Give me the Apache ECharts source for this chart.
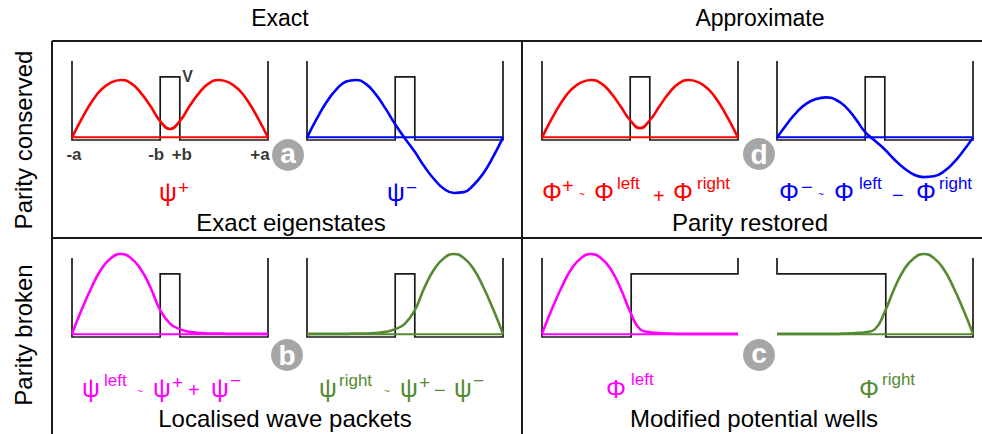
<!DOCTYPE html>
<html><head><meta charset="utf-8">
<script src="https://cdn.jsdelivr.net/npm/echarts@6/dist/echarts.min.js"></script>
<style>html,body{margin:0;padding:0;background:#fff}#c{width:982px;height:434px}</style>
</head><body><div id="c"></div>
<script>
// ---- data (x in units of a, y in units of wall height) ----
const xSample = [-1,-0.9,-0.8,-0.7,-0.6,-0.5,-0.4,-0.3,-0.2,-0.1,0,0.1,0.2,0.3,0.4,0.5,0.6,0.7,0.8,0.9,1];
const psiPlus  = [0.03,0.27,0.48,0.64,0.73,0.76,0.72,0.60,0.43,0.24,0.14,0.24,0.43,0.60,0.72,0.76,0.73,0.64,0.48,0.27,0.03];
const psiMinus = [0.03,0.27,0.48,0.64,0.74,0.76,0.71,0.58,0.40,0.20,0.02,-0.15,-0.34,-0.50,-0.62,-0.67,-0.66,-0.57,-0.42,-0.21,0.03];
const phiPlus  = [0.03,0.27,0.48,0.64,0.73,0.76,0.72,0.60,0.43,0.25,0.15,0.25,0.43,0.60,0.72,0.76,0.73,0.64,0.48,0.27,0.03];
const phiMinus = [0.03,0.20,0.35,0.46,0.52,0.54,0.51,0.42,0.27,0.10,-0.01,-0.12,-0.25,-0.36,-0.44,-0.47,-0.46,-0.40,-0.29,-0.14,0.03];
const psiLeft  = [0.04,0.35,0.63,0.86,1.00,1.05,1.00,0.86,0.63,0.34,0.17,0.10,0.065,0.05,0.045,0.045,0.04,0.04,0.04,0.04,0.04];
const psiRight = [0.04,0.04,0.04,0.04,0.04,0.045,0.045,0.05,0.065,0.10,0.17,0.34,0.63,0.86,1.00,1.05,1.00,0.86,0.63,0.35,0.04];
const phiLeft  = [0.04,0.35,0.63,0.86,1.00,1.05,1.00,0.86,0.62,0.32,0.10,0.06,0.05,0.045,0.04,0.04,0.04,0.04,0.04,0.04,0.04];
const phiRight = [0.04,0.04,0.04,0.04,0.04,0.04,0.04,0.045,0.05,0.06,0.10,0.32,0.62,0.86,1.00,1.05,1.00,0.86,0.63,0.35,0.04];
const potSymX   = [-1,-1,-0.1,-0.1,0.1,0.1,1,1];
const potSymY   = [1,0,0,0.8,0.8,0,0,1];
const potLeftX  = [-1,-1,-0.09,-0.09,1,1];
const potLeftY  = [1,0,0,0.8,0.8,1];
const potRightX = [-1,-1,0.11,0.11,1,1];
const potRightY = [1,0.8,0.8,0,0,1];
const baselineLevel = 0.035;
const tickPositions = [-1,-0.1,0.1,1];
const tickLabels = ['-a','-b','+b','+a'];
const barrierLabel = 'V';
const colTitles = ['Exact','Approximate'];
const rowTitles = ['Parity conserved','Parity broken'];
const captions = ['Exact eigenstates','Parity restored','Localised wave packets','Modified potential wells'];
const badges = ['a','d','b','c'];

// ---- styling / layout ----
const FONT = '"Liberation Sans", Arial, Helvetica, sans-serif';
const RED='#ff0000', BLUE='#0000ff', MAG='#ff00ff', GRN='#558a33', INK='#1a1a1a';
const wellLefts = [72,307,542,777], floors = [140,337], unit = 79, yMin=-1, yMax=1.2;
const zip = (xs,ys)=>xs.map((x,i)=>[x,ys[i]]);
const wells = [
  {pot:zip(potSymX,potSymY), wave:psiPlus,  color:RED},
  {pot:zip(potSymX,potSymY), wave:psiMinus, color:BLUE},
  {pot:zip(potSymX,potSymY), wave:phiPlus,  color:RED},
  {pot:zip(potSymX,potSymY), wave:phiMinus, color:BLUE},
  {pot:zip(potSymX,potSymY), wave:psiLeft,  color:MAG},
  {pot:zip(potSymX,potSymY), wave:psiRight, color:GRN},
  {pot:zip(potLeftX,potLeftY),  wave:phiLeft,  color:MAG},
  {pot:zip(potRightX,potRightY),wave:phiRight, color:GRN}
];
const grid=[], xAxis=[], yAxis=[], series=[];
wells.forEach((w,i)=>{
  const r = i<4?0:1, c = i%4;
  grid.push({left:wellLefts[c], top:floors[r]-yMax*unit, width:196, height:(yMax-yMin)*unit});
  xAxis.push({type:'value', gridIndex:i, min:-1, max:1, show:false});
  yAxis.push({type:'value', gridIndex:i, min:yMin, max:yMax, show:false});
  const base = {type:'line', xAxisIndex:i, yAxisIndex:i, symbol:'none', clip:false, silent:true, animation:false};
  series.push(Object.assign({}, base, {data:w.pot, lineStyle:{color:INK, width:1.7, join:'miter'}}));
  series.push(Object.assign({}, base, {data:[[-1,baselineLevel],[1,baselineLevel]], lineStyle:{color:w.color, width:2}}));
  series.push(Object.assign({}, base, {data:zip(xSample,w.wave), smooth:true, lineStyle:{color:w.color, width:2.6}}));
});
const tickOffsets=[2,-4,2,-8];
series.push({type:'scatter', xAxisIndex:0, yAxisIndex:0, symbolSize:1, itemStyle:{color:'rgba(0,0,0,0)'}, silent:true, animation:false,
  data: tickPositions.map((x,k)=>({value:[x,-0.18], label:{offset:[tickOffsets[k],0]}})),
  label:{show:true, position:'inside', formatter:p=>tickLabels[p.dataIndex], fontFamily:FONT, fontWeight:'bold', fontSize:17, color:'#000'}});
series.push({type:'scatter', xAxisIndex:0, yAxisIndex:0, symbolSize:1, itemStyle:{color:'rgba(0,0,0,0)'}, silent:true, animation:false,
  data:[[0.1,0.8]], label:{show:true, position:'right', distance:2, formatter:barrierLabel, fontFamily:FONT, fontWeight:'bold', fontSize:16, color:'#000'}});

// ---- graphic: frame, texts, badges ----
function T(text,x,y,size,color,opt){
  opt=opt||{};
  const al=opt.align||'left';
  return {type:'text', x:x, y:y, rotation:opt.rot||0, silent:true,
    style:{text:text, fill:color, font:(opt.bold?'bold ':'')+size+'px '+FONT,
      align:al, textAlign:al, verticalAlign:'middle', textVerticalAlign:'middle'}};
}
function L(x1,y1,x2,y2){return {type:'line', silent:true, shape:{x1,y1,x2,y2}, style:{stroke:INK, lineWidth:2}};}
const g=[];
g.push(L(52,41,982,41), L(52,238,982,238), L(52,41,52,434), L(522,41,522,434));
g.push(T(colTitles[0],280,18,23,'#000',{align:'center'}), T(colTitles[1],760,18,23,'#000',{align:'center'}));
g.push(T(rowTitles[0],23,140,24,'#000',{align:'center',rot:Math.PI/2}), T(rowTitles[1],23,335,24,'#000',{align:'center',rot:Math.PI/2}));
g.push(T(captions[0],291,222,24,'#000',{align:'center'}), T(captions[1],750,222,24,'#000',{align:'center'}),
       T(captions[2],285,418,24,'#000',{align:'center'}), T(captions[3],754,418,24,'#000',{align:'center'}));
const badgePos=[[288,155],[759,154],[287,355],[759,355]];
badges.forEach((b,k)=>{
  g.push({type:'circle', silent:true, shape:{cx:badgePos[k][0], cy:badgePos[k][1], r:16}, style:{fill:'#a6a6a6'}});
  g.push(T(b,badgePos[k][0],badgePos[k][1]-(b==='a'||b==='c'?2:0),28,'#fff',{align:'center',bold:true}));
});
// formulas: [text, left, centerY, size]
const G=25;
const formulas = [
  [RED,  [['ψ',159,192,G],['+',178,187,19]]],
  [BLUE, [['ψ',387,192,G],['−',406,187,19]]],
  [RED,  [['Φ',542,192,G],['+',562,186,20],['~',579,194,10],['Φ',594,192,G],['left',617,183,17],['+',653,196,20],['Φ',673,192,G],['right',697,183,17]]],
  [BLUE, [['Φ',779,192,G],['−',801,187,20],['~',818,194,10],['Φ',834,192,G],['left',859,183,17],['−',892,195,20],['Φ',916,192,G],['right',939,183,17]]],
  [MAG,  [['ψ',82,388,G],['left',104,380,17],['~',137,391,10],['ψ',153,388,G],['+',172,382,19],['+',188,390,20],['ψ',211,388,G],['−',230,380,19]]],
  [GRN,  [['ψ',319,388,G],['right',339,380,17],['~',384,391,10],['ψ',400,388,G],['+',419,382,19],['−',434,390,20],['ψ',454,388,G],['−',473,380,19]]],
  [MAG,  [['Φ',606,389,G],['left',631,379,17]]],
  [GRN,  [['Φ',859,389,G],['right',882,379,17]]]
];
formulas.forEach(f=>f[1].forEach(p=>g.push(T(p[0],p[1],p[2],p[3],f[0]))));

const chart = echarts.init(document.getElementById('c'), null, {renderer:'svg'});
chart.setOption({animation:false, backgroundColor:'#fff', grid, xAxis, yAxis, series, graphic:{elements:g}});
</script></body></html>
